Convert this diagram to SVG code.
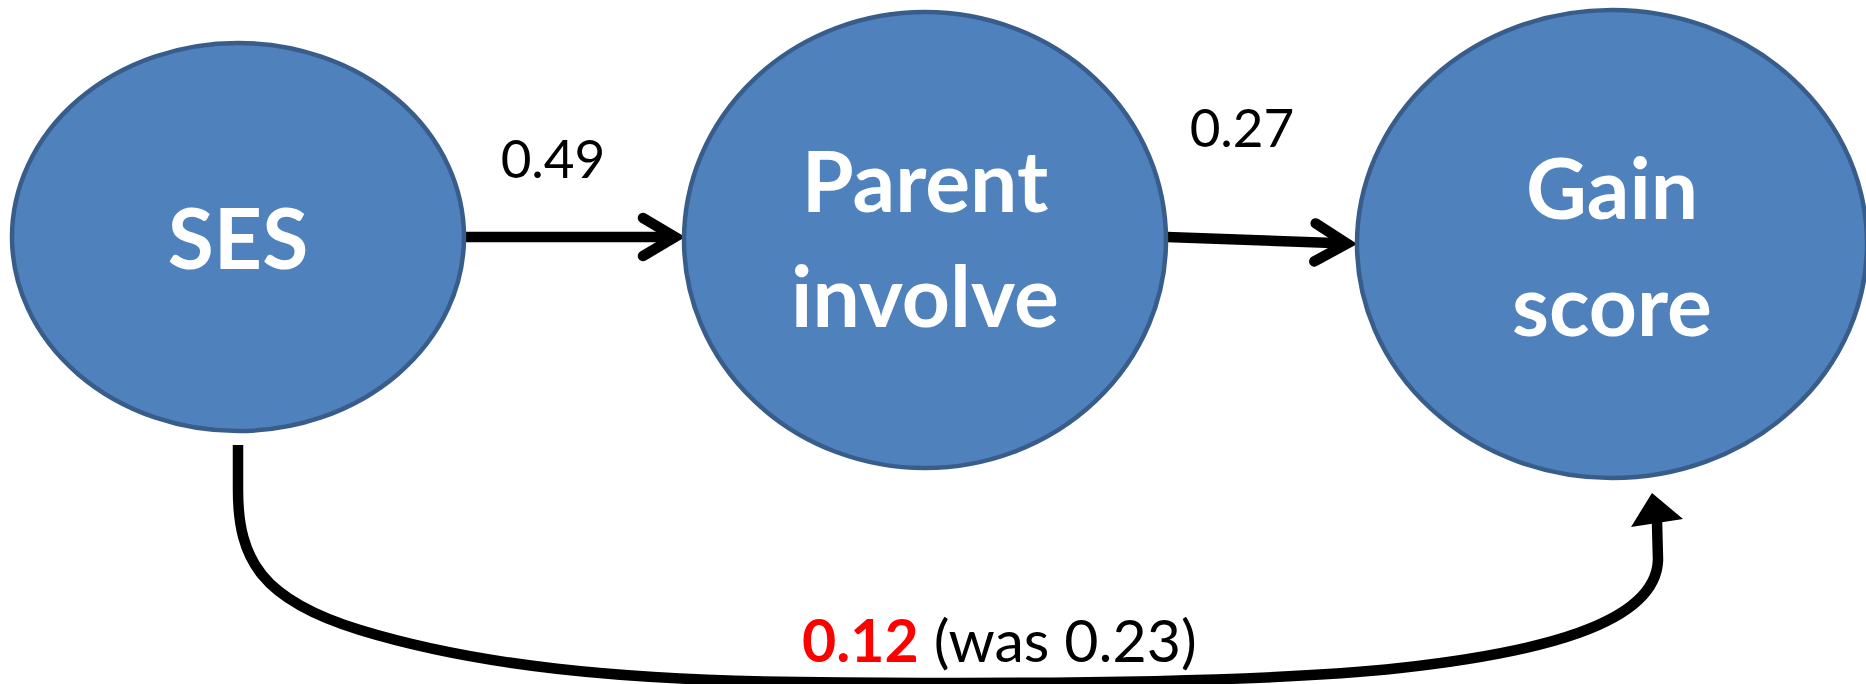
<svg xmlns="http://www.w3.org/2000/svg" width="1866" height="684" viewBox="0 0 1866 684">
  <style>
    .node ellipse { fill: #4F81BD; stroke: #385D8A; stroke-width: 4.5; }
    .node text { font-family: Lato, "Open Sans", sans-serif; font-weight: 700; font-size: 84px; fill: #FFFFFF; text-anchor: middle; }
    .edge { fill: none; stroke: #000000; stroke-width: 10.5; }
    .label { font-family: Lato, "Open Sans", sans-serif; font-size: 53px; fill: #000000; }
    .bottom { font-size: 59px; }
    .hi { font-weight: 700; fill: #FF0000; }
  </style>
  <defs>
    <!-- open chevron head used by the straight paths -->
    <marker id="open" markerUnits="userSpaceOnUse" viewBox="-50 -30 60 60" refX="0" refY="0" markerWidth="60" markerHeight="60" orient="auto" overflow="visible">
      <path d="M-32,-19 L0,0 L-32,19" fill="none" stroke="#000000" stroke-width="10.5" stroke-linecap="round" stroke-linejoin="miter"/>
    </marker>
  </defs>

  <rect width="1866" height="684" fill="#FFFFFF"/>

  <!-- connectors -->
  <g id="connectors">
    <path class="edge" d="M462,237 L675,237" marker-end="url(#open)"/>
    <path class="edge" d="M1167,237 L1347,243.6" marker-end="url(#open)"/>
    <path class="edge" d="M238,445 L238,490 C238,560 262,600 360,630 C478,666 620,680 800,682 C980,684 1250,684 1400,668 C1535,653 1656,625 1658,560 L1657,522"/>
    <polygon points="1652,493 1631,527 1683,519" fill="#000000"/>
  </g>

  <!-- path coefficient labels -->
  <g id="labels">
    <text class="label" x="553" y="178" text-anchor="middle">0.49</text>
    <text class="label" x="1242" y="147" text-anchor="middle">0.27</text>
    <text class="label bottom" x="802" y="662"><tspan class="hi">0.12</tspan> (was 0.23)</text>
  </g>

  <!-- nodes -->
  <g id="node-ses" class="node">
    <ellipse cx="238" cy="237" rx="226" ry="194"/>
    <text x="238" y="269">SES</text>
  </g>
  <g id="node-parent" class="node">
    <ellipse cx="925" cy="240" rx="241" ry="228"/>
    <text x="925" y="212">Parent</text>
    <text x="925" y="327">involve</text>
  </g>
  <g id="node-gain" class="node">
    <ellipse cx="1612" cy="244" rx="255" ry="234"/>
    <text x="1612" y="219">Gain</text>
    <text x="1612" y="336">score</text>
  </g>
</svg>
